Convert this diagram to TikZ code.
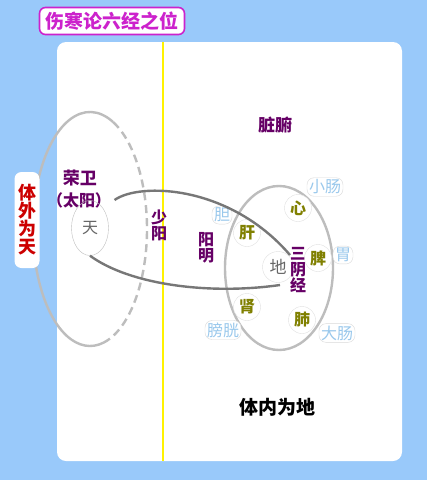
\documentclass[tikz,border=0pt]{standalone}
\usepackage{fontspec}
\newfontfamily\cjk{Noto Sans CJK SC}
\usetikzlibrary{shapes.geometric}
\definecolor{bgblue}{HTML}{99C9FA}
\definecolor{titlemag}{HTML}{CC22CC}
\definecolor{jingpurple}{HTML}{660066}
\definecolor{zangolive}{HTML}{808000}
\definecolor{fublue}{HTML}{99C8EC}
\definecolor{ellgray}{HTML}{BDBDBD}
\definecolor{linkgray}{HTML}{777777}
\tikzset{
    zh/.style={font=\cjk\bfseries\fontsize{#1}{#1}\selectfont},
    jing/.style={zh=16,text=jingpurple},
    zang/.style={circle,draw=black!12,fill=white,inner sep=0pt,minimum size=27pt,zh=16,text=zangolive},
    fu/.style={rectangle,rounded corners=7pt,draw=black!15,fill=white,inner sep=2pt,font=\cjk\fontsize{16}{16}\selectfont,text=fublue},
    link/.style={draw=linkgray,line width=2.4pt},
    ell/.style={draw=ellgray,line width=2.4pt}
}

\begin{document}
\begin{tikzpicture}[x=1pt,y=-1pt]
    \useasboundingbox (0,0) rectangle (427,480);
    \fill[bgblue] (0,0) rectangle (427,480);
    \fill[white,rounded corners=9pt] (57,42) rectangle (402,461);
    \draw[yellow,line width=1.6pt] (163,42) -- (163,461);
    \node[draw=titlemag,line width=1.6pt,fill=white,rounded corners=6pt,minimum width=145pt,minimum height=27pt,inner sep=0pt,zh=19,text=titlemag] (title) at (112,21) {伤寒论六经之位};
    \draw[ell] (90,229) ++(-66:57 and 117) arc[start angle=-66,end angle=-284,x radius=57,y radius=117];
    \draw[ell,dash pattern=on 8pt off 5pt] (90,229) ++(-66:57 and 117) arc[start angle=-66,end angle=76,x radius=57,y radius=117];
    \node[rectangle,rounded corners=7pt,fill=white,minimum width=25pt,minimum height=96pt,inner sep=0pt] (outbox) at (27,220) {};
    \node[zh=18,text=red!80!black,align=center,inner sep=0pt] (outside) at (outbox) {\baselineskip=19.5pt 体\\外\\为\\天};
    \node[jing,zh=17] (rongwei) at (80,178) {荣卫};
    \node[jing,zh=16] (taiyang) at (79,200) {（太阳）};
    \node[ellipse,draw=black!25,minimum width=37pt,minimum height=55pt,inner sep=0pt,text=black!60,font=\cjk\fontsize{16}{16}\selectfont] (tian) at (90,228) {天};
    \node[jing,align=center] (shaoyang) at (159,225) {\baselineskip=21pt 少\\阳};
    \node[jing,align=center] (yangming) at (206,248) {\baselineskip=21pt 阳\\明};
    \node[jing,zh=17] (zangfu) at (275,125) {脏腑};
    \node[ell,ellipse,minimum width=108pt,minimum height=164pt,inner sep=0pt] (inner) at (279,268) {};
    \node[zang,text=black!60,font=\cjk\fontsize{17}{17}\selectfont,minimum size=31pt] (di) at (278,267) {地};
    \node[jing,align=center] (sanyin) at (298,270) {\baselineskip=22pt 三\\阴\\经};
    \node[zang] (xin) at (298,208) {心};
    \node[zang] (gan) at (247,233) {肝};
    \node[zang] (pi) at (318,258) {脾};
    \node[zang] (shen) at (247,307) {肾};
    \node[zang] (fei) at (302,320) {肺};
    \node[fu] (xiaochang) at (325,187) {小肠};
    \node[fu] (dan) at (222,215) {胆};
    \node[fu] (wei) at (343,255) {胃};
    \node[fu] (pangguang) at (223,330) {膀胱};
    \node[fu] (dachang) at (337,333) {大肠};
    \coordinate (upperend) at (290,255);
    \coordinate (lowerend) at (280,285);
    \draw[link] (taiyang.east) .. controls (140,182) and (230,185) .. (upperend);
    \draw[link] (tian.south) .. controls (130,285) and (210,295) .. (lowerend);
    \node[zh=19,text=black] (inside) at (277,407) {体内为地};
\end{tikzpicture}
\end{document}
